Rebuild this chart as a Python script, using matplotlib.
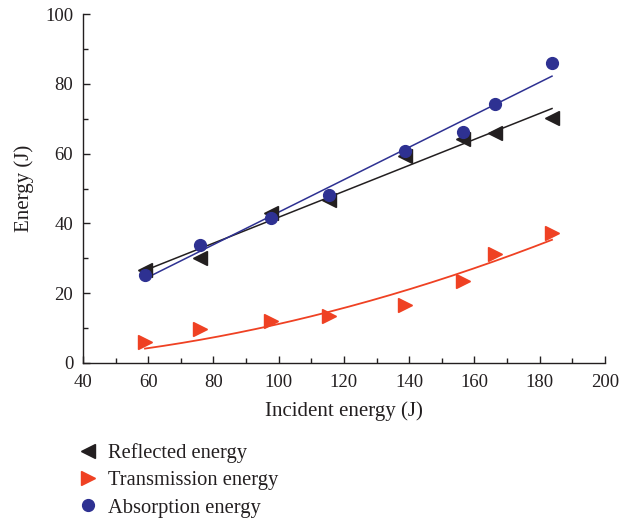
import matplotlib
matplotlib.use("Agg")
import matplotlib.pyplot as plt
import numpy as np
from matplotlib.ticker import MultipleLocator

# Incident energy (J) and how it splits up
incident = [59.0, 76.0, 97.6, 115.4, 138.7, 156.5, 166.3, 183.8]
reflected = [26.6, 30.0, 42.9, 46.8, 59.4, 64.1, 66.0, 70.3]
transmission = [6.1, 9.6, 12.1, 13.6, 16.6, 23.5, 31.2, 37.2]
absorption = [25.2, 33.8, 41.5, 48.2, 60.7, 66.2, 74.2, 86.0]

labels = ["Reflected energy", "Transmission energy", "Absorption energy"]

black = "#231f20"
red = "#ef4123"
blue = "#2e3192"


def power_fit(x, y, n_iter=50):
    """Least-squares fit of y = a * x**b (Gauss-Newton from a log-log start)."""
    x = np.asarray(x, float)
    y = np.asarray(y, float)
    b, lna = np.polyfit(np.log(x), np.log(y), 1, w=y)
    a = np.exp(lna)
    for _ in range(n_iter):
        f = a * x ** b
        J = np.column_stack([x ** b, f * np.log(x)])
        step, *_ = np.linalg.lstsq(J, y - f, rcond=None)
        a += step[0]
        b += step[1]
    return a, b


plt.rcParams["font.family"] = ["Liberation Serif", "DejaVu Serif"]
plt.rcParams["font.size"] = 13.5

fig = plt.figure(figsize=(6.34, 5.23), dpi=100)
ax = fig.add_axes([0.131, 0.306, 0.823, 0.667])

x = np.asarray(incident)
xs = np.linspace(x.min(), x.max(), 200)

# linear fits for reflected / absorbed, power-law fit for transmitted
fit_r = np.polyfit(x, reflected, 1)
fit_a = np.polyfit(x, absorption, 1)
pa, pb = power_fit(x, transmission)

ax.plot(xs, np.polyval(fit_r, xs), color=black, lw=1.1)
ax.plot(xs, np.polyval(fit_a, xs), color=blue, lw=1.1)
ax.plot(xs, pa * xs ** pb, color=red, lw=1.3)

h1, = ax.plot(x, reflected, ls="none", marker="<", ms=9.5, color=black)
h2, = ax.plot(x, transmission, ls="none", marker=">", ms=9.5, color=red)
h3, = ax.plot(x, absorption, ls="none", marker="o", ms=8.5, color=blue)

ax.set_xlim(40, 200)
ax.set_ylim(0, 100)
ax.xaxis.set_major_locator(MultipleLocator(20))
ax.xaxis.set_minor_locator(MultipleLocator(10))
ax.yaxis.set_major_locator(MultipleLocator(20))
ax.yaxis.set_minor_locator(MultipleLocator(10))
ax.tick_params(which="both", direction="in", width=1, colors=black,
               labelcolor=black)
ax.tick_params(axis="x", which="major", length=5, pad=8)
ax.tick_params(axis="y", which="major", length=5, pad=7)
ax.tick_params(which="minor", length=3.3)
for side in ("top", "right"):
    ax.spines[side].set_visible(False)
for side in ("left", "bottom"):
    ax.spines[side].set_linewidth(1)
    ax.spines[side].set_color(black)

ax.set_xlabel("Incident energy (J)", color=black, fontsize=15, labelpad=7)
ax.set_ylabel("Energy (J)", color=black, fontsize=15, labelpad=8)

fig.legend([h1, h2, h3], labels, loc="upper left",
           bbox_to_anchor=(0.11, 0.172), frameon=False, fontsize=14.8,
           handlelength=0.8, handletextpad=0.55, labelspacing=0.38,
           borderpad=0, labelcolor=black)

fig.savefig("out.png", dpi=100)
